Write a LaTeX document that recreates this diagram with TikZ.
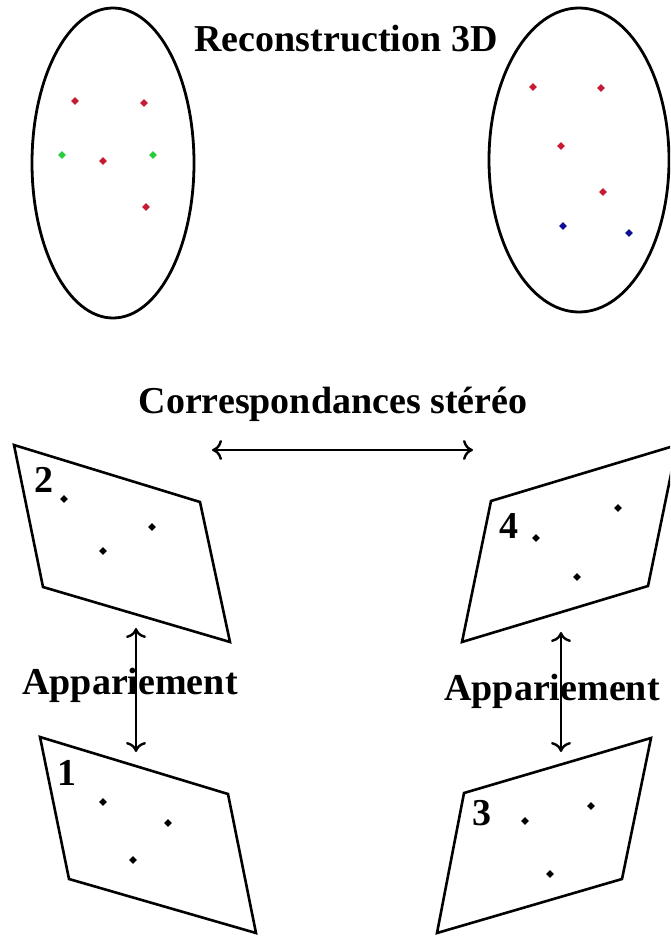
\documentclass[tikz,border=0pt]{standalone}
\usepackage{fontspec}
\setmainfont{Liberation Serif}
\usepackage{xcolor}
\usetikzlibrary{arrows.meta,shapes.geometric}

\definecolor{ptred}{RGB}{200,25,50}
\definecolor{ptgreen}{RGB}{40,205,60}
\definecolor{ptblue}{RGB}{15,15,150}

\begin{document}
\begin{tikzpicture}[
  x=0.5pt, y=-0.5pt,
  label/.style={font=\bfseries\fontsize{19}{22}\selectfont, inner sep=0, anchor=base},
  cloud/.style={draw, ellipse, line width=1.4pt, minimum width=81pt, minimum height=155pt, inner sep=0},
  plane/.style={draw, line width=1.3pt, line join=miter},
  pt/.style={diamond, fill, inner sep=0, minimum size=4pt},
  arrow/.style={{To[length=5pt,width=10pt]}-{To[length=5pt,width=10pt]}, line width=1.2pt}
]
\clip (0,0) rectangle (670,936);

% nuages 3D
\node[cloud] (cloudL) at (113,163) {};
\node[cloud, minimum width=90pt, minimum height=152pt] (cloudR) at (579,160) {};
\node[label] (reco) at (346,52) {Reconstruction 3D};

\node[pt, ptred] (l1) at (75,101) {};
\node[pt, ptred] (l2) at (144,103) {};
\node[pt, ptgreen] (l3) at (62,155) {};
\node[pt, ptred] (l4) at (103,161) {};
\node[pt, ptgreen] (l5) at (153,155) {};
\node[pt, ptred] (l6) at (146,207) {};

\node[pt, ptred] (r1) at (533,87) {};
\node[pt, ptred] (r2) at (601,88) {};
\node[pt, ptred] (r3) at (561,146) {};
\node[pt, ptred] (r4) at (603,192) {};
\node[pt, ptblue] (r5) at (563,226) {};
\node[pt, ptblue] (r6) at (629,233) {};

% images
\draw[plane] (14,445) -- (200,502) -- (230,642) -- (43,587) -- cycle;
\draw[plane] (491,501) -- (677,445) -- (648,586) -- (462,642) -- cycle;
\draw[plane] (40,737) -- (228,794) -- (256,933) -- (69,879) -- cycle;
\draw[plane] (464,793) -- (651,738) -- (622,879) -- (437,933) -- cycle;

\node[label] (im2) at (44,492) {2};
\node[label] (im4) at (509,538) {4};
\node[label] (im1) at (67,785) {1};
\node[label] (im3) at (482,825) {3};

\node[pt] (a1) at (64,499) {};
\node[pt] (a2) at (152,527) {};
\node[pt] (a3) at (103,551) {};
\node[pt] (b1) at (536,538) {};
\node[pt] (b2) at (618,508) {};
\node[pt] (b3) at (577,577) {};
\node[pt] (c1) at (103,802) {};
\node[pt] (c2) at (168,823) {};
\node[pt] (c3) at (133,860) {};
\node[pt] (d1) at (525,821) {};
\node[pt] (d2) at (591,806) {};
\node[pt] (d3) at (550,874) {};

% correspondances
\node[label] (stereo) at (333,413) {Correspondances stéréo};
\node[label] (appL) at (130,694) {Appariement};
\node[label] (appR) at (552,700) {Appariement};

\coordinate (s1) at (212,450);
\coordinate (s2) at (473,450);
\coordinate (m21) at (136,628);
\coordinate (m12) at (136,752);
\coordinate (m43) at (561,632);
\coordinate (m34) at (561,752);

\draw[arrow] (s1) -- (s2);
\draw[arrow] (m21) -- (m12);
\draw[arrow] (m43) -- (m34);
\end{tikzpicture}
\end{document}
